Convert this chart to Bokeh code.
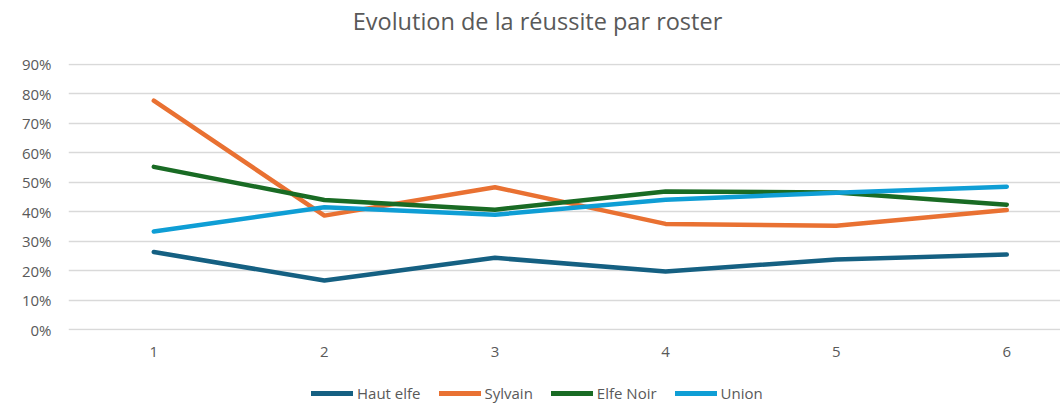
from bokeh.plotting import figure
from bokeh.layouts import column
from bokeh.models import Range1d, FixedTicker, NumeralTickFormatter, Legend, LegendItem, Label
from bokeh.embed import file_html
from bokeh.resources import INLINE

rounds = [1, 2, 3, 4, 5, 6]
haut_elfe = [0.264, 0.167, 0.244, 0.198, 0.238, 0.255]
sylvain = [0.776, 0.387, 0.483, 0.359, 0.353, 0.406]
elfe_noir = [0.552, 0.440, 0.407, 0.469, 0.465, 0.424]
union = [0.333, 0.415, 0.390, 0.441, 0.464, 0.485]
series_names = ["Haut elfe", "Sylvain", "Elfe Noir", "Union"]
series_colors = ["#156082", "#E97132", "#196B24", "#0F9ED5"]
y_ticks = [0, 0.1, 0.2, 0.3, 0.4, 0.5, 0.6, 0.7, 0.8, 0.9]
title_text = "Evolution de la réussite par roster"

FONT = "Open Sans"
TXT = "#595959"
W = 1060


def strip(height):
    f = figure(width=W, height=height, output_backend="svg", toolbar_location=None,
               x_range=Range1d(0, 1), y_range=Range1d(10, 11),
               x_axis_location=None, y_axis_location=None,
               min_border_left=0, min_border_right=0, min_border_top=0, min_border_bottom=0)
    f.grid.visible = False
    f.outline_line_color = None
    f.border_fill_color = "white"
    return f


# title strip
tp = strip(50)
tp.add_layout(Label(x=469, y=30, x_units="screen", y_units="screen", text=title_text,
                    text_font=FONT, text_font_size="23.5px", text_color=TXT,
                    text_align="center", text_baseline="alphabetic"))

# main chart
p = figure(width=W, height=328, output_backend="svg", toolbar_location=None,
           x_range=Range1d(0.5, 6.315), y_range=Range1d(-0.002, 0.902),
           min_border_left=68, min_border_right=0, min_border_top=13,
           min_border_bottom=48)
p.outline_line_color = None
p.background_fill_color = "white"
p.border_fill_color = "white"

p.xgrid.grid_line_color = None
p.ygrid.grid_line_color = "#D9D9D9"
p.ygrid.grid_line_width = 1.3
p.ygrid.ticker = FixedTicker(ticks=y_ticks)

p.yaxis.ticker = FixedTicker(ticks=y_ticks)
p.yaxis.formatter = NumeralTickFormatter(format="0%")
p.xaxis.ticker = FixedTicker(ticks=rounds)
for ax in (p.xaxis, p.yaxis):
    ax.axis_line_color = None
    ax.major_tick_line_color = None
    ax.minor_tick_line_color = None
    ax.major_label_text_font = FONT
    ax.major_label_text_font_size = "15px"
    ax.major_label_text_color = TXT
p.yaxis.major_label_standoff = 11
p.xaxis.major_label_standoff = 10

all_series = [haut_elfe, sylvain, elfe_noir, union]
for vals, col in zip(all_series, series_colors):
    p.line(rounds, vals, line_color=col, line_width=4.5, line_cap="round", line_join="round")

# legend strip below the chart
lp = strip(30)
items = []
for name, vals, col in zip(series_names, all_series, series_colors):
    r = lp.line(rounds, vals, line_color=col, line_width=5, line_cap="round")
    items.append(LegendItem(label=name, renderers=[r]))
legend = Legend(items=items, orientation="horizontal", location=(243, 5),
                label_text_font=FONT, label_text_font_size="15px", label_text_color=TXT,
                glyph_width=42, glyph_height=16, label_standoff=4, spacing=18,
                border_line_color=None, background_fill_alpha=0, padding=0, margin=0)
lp.add_layout(legend, "center")

layout = column(tp, p, lp, spacing=0)
open("out.html", "w").write(file_html(layout, INLINE))
